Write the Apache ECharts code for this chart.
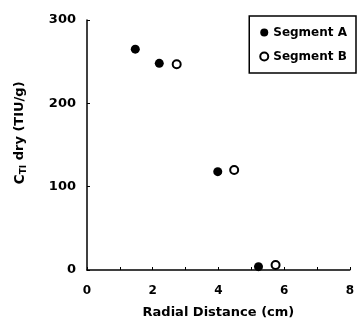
<!DOCTYPE html>
<html><head><meta charset="utf-8">
<script src="https://cdn.jsdelivr.net/npm/echarts@6/dist/echarts.min.js"></script>
<style>html,body{margin:0;padding:0;background:#fff}#c{width:357px;height:324px}</style>
</head><body><div id="c"></div>
<script>
const segmentA_x = [1.47, 2.2, 3.98, 5.22];
const segmentA_y = [265, 248, 118, 4];
const segmentB_x = [2.73, 4.48, 5.74];
const segmentB_y = [247, 120, 6];
const xTicks = [0, 2, 4, 6, 8];
const yTicks = [0, 100, 200, 300];
const seriesNames = ['Segment A', 'Segment B'];

const F = 'DejaVu Sans';
const chart = echarts.init(document.getElementById('c'));
chart.setOption({
  animation: false,
  grid: {left: 87, right: 5, top: 20, bottom: 53},
  legend: {
    right: 1, top: 16, orient: 'vertical', itemGap: 9,
    borderColor: '#000', borderWidth: 1.5, padding: [9, 9, 9, 10],
    itemWidth: 8, itemHeight: 8,
    textStyle: {fontFamily: F, fontWeight: 'bold', fontSize: 12, color: '#000', lineHeight: 15},
    data: [
      {name: seriesNames[0], icon: 'circle'},
      {name: seriesNames[1], icon: 'circle'}
    ]
  },
  graphic: [{
    type: 'text', x: 20, y: 133, rotation: Math.PI / 2,
    style: {
      text: '{c|C}{s|TI}{n| dry (TIU/g)}',
      align: 'center', verticalAlign: 'middle',
      rich: {
        c: {fontFamily: F, fontWeight: 'bold', fontSize: 14, fill: '#000'},
        s: {fontFamily: F, fontWeight: 'bold', fontSize: 9, fill: '#000', padding: [8, 0, 0, 0]},
        n: {fontFamily: F, fontWeight: 'bold', fontSize: 13, fill: '#000'}
      }
    }
  }],
  xAxis: {
    type: 'value', min: 0, max: 8, interval: 1,
    name: 'Radial Distance (cm)', nameLocation: 'middle', nameGap: 36,
    nameTextStyle: {fontFamily: F, fontWeight: 'bold', fontSize: 13, color: '#000'},
    axisLine: {lineStyle: {color: '#000', width: 1.5}},
    axisTick: {inside: true, length: 3, lineStyle: {color: '#000'}},
    axisLabel: {fontFamily: F, fontWeight: 'bold', fontSize: 12, color: '#000', margin: 15,
      formatter: v => xTicks.includes(v) ? String(v) : ''},
    splitLine: {show: false}
  },
  yAxis: {
    type: 'value', min: 0, max: 300, interval: 100,
    axisLine: {show: true, lineStyle: {color: '#000', width: 1.5}},
    axisTick: {inside: true, length: 3, lineStyle: {color: '#000'}},
    axisLabel: {fontFamily: F, fontWeight: 'bold', fontSize: 13, color: '#000', margin: 11,
      formatter: v => yTicks.includes(v) ? String(v) : ''},
    splitLine: {show: false}
  },
  series: [
    {
      name: seriesNames[0], type: 'scatter', symbol: 'circle', symbolSize: 9,
      itemStyle: {color: '#000', opacity: 1},
      data: segmentA_x.map((x, i) => [x, segmentA_y[i]])
    },
    {
      name: seriesNames[1], type: 'scatter', symbol: 'circle', symbolSize: 8,
      itemStyle: {color: '#fff', borderColor: '#000', borderWidth: 2, opacity: 1},
      data: segmentB_x.map((x, i) => [x, segmentB_y[i]])
    }
  ]
});
</script></body></html>
